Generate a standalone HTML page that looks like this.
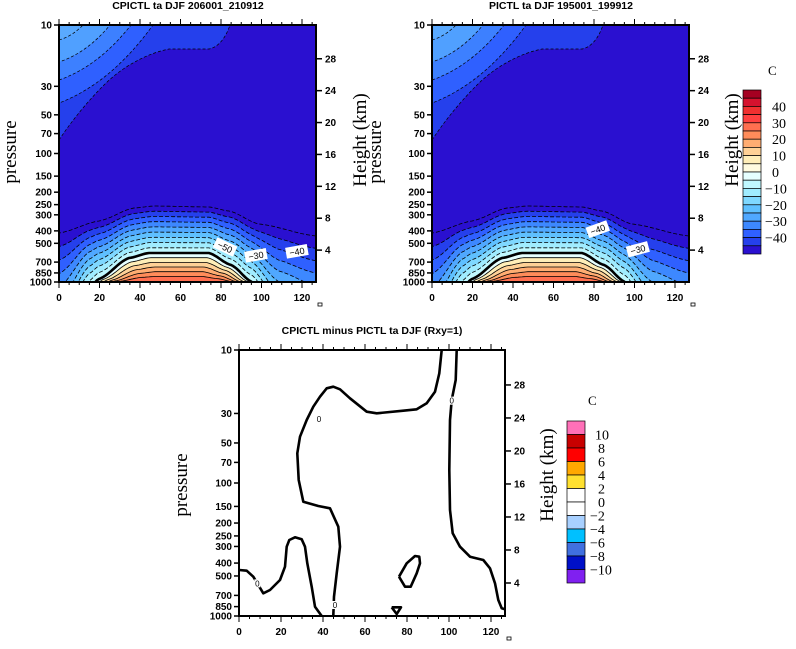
<!DOCTYPE html>
<html><head><meta charset="utf-8"><style>
body{margin:0;background:#fff;}
svg{display:block;font-family:"Liberation Sans",sans-serif;}
.t{font-weight:bold;font-size:10.5px;}
.tk{font-size:10px;font-weight:bold;font-family:"Liberation Sans",sans-serif;}
.ax{font-family:"Liberation Serif",serif;font-size:19px;}
</style></head><body>
<svg id="s" width="796" height="649" viewBox="0 0 796 649" xmlns="http://www.w3.org/2000/svg"></svg>
<script>
var S=document.getElementById('s'),out='';
function lg(p){return Math.log(p/10)/Math.LN10/2;}
function interp(pts,x){if(x<=pts[0][0])return pts[0][1];for(var i=1;i<pts.length;i++){if(x<=pts[i][0]){var a=pts[i-1],b=pts[i],t=(x-a[0])/(b[0]-a[0]);t=0.5*t+0.5*(1-Math.cos(Math.PI*t))/2;return a[1]+(b[1]-a[1])*t;}}return pts[pts.length-1][1];}
function axes(L,T,W,H,sx,xmax){
 var s='';
 s+='<rect x="'+L+'" y="'+T+'" width="'+W+'" height="'+H+'" fill="none" stroke="#000" stroke-width="2"/>';
 var P=[10,30,50,70,100,150,200,250,300,400,500,700,850,1000];
 P.forEach(function(p){var y=T+H*lg(p);s+='<line x1="'+(L-5)+'" y1="'+y+'" x2="'+L+'" y2="'+y+'" stroke="#000" stroke-width="1.5"/><text class="tk" x="'+(L-7)+'" y="'+(y+3.5)+'" text-anchor="end">'+p+'</text>';});
 for(var z=4;z<=28;z+=4){var p=1000*Math.exp(-z/7),y=T+H*lg(p);s+='<line x1="'+(L+W)+'" y1="'+y+'" x2="'+(L+W+6)+'" y2="'+y+'" stroke="#000" stroke-width="1.5"/><text class="tk" x="'+(L+W+9)+'" y="'+(y+3.5)+'">'+z+'</text>';}
 for(var u=0;u<=xmax;u+=5){var x=L+u*sx,len=(u%20==0)?6:3;
  s+='<line x1="'+x+'" y1="'+(T+H)+'" x2="'+x+'" y2="'+(T+H+len)+'" stroke="#000"/><line x1="'+x+'" y1="'+T+'" x2="'+x+'" y2="'+(T-len)+'" stroke="#000"/>';
  if(u%20==0)s+='<text class="tk" x="'+x+'" y="'+(T+H+19)+'" text-anchor="middle">'+u+'</text>';}
 s+='<rect x="'+(L+W+2)+'" y="'+(T+H+21)+'" width="4" height="3" fill="none" stroke="#000" stroke-width="0.8"/>';
 return s;
}
function pathBelow(L,T,W,H,f,bot){var d='M'+(L-2)+','+(bot+5);for(var x=-2;x<=W+2;x+=2){d+=' L'+(L+x)+','+(T+f(x)).toFixed(1);}d+=' L'+(L+W+2)+','+(bot+5)+' Z';return d;}
function lineOf(L,T,W,f){var d='';for(var x=-2;x<=W+2;x+=2){d+=(x==-2?'M':' L')+(L+x)+','+(T+f(x)).toFixed(1);}return d;}
var thick=[[-10,345],[0,330],[30,263],[40,254],[70,233],[90,228],[150,228],[172,240],[193,257],[220,300],[257,322],[270,330]];
var topc=[[-5,209],[0,208],[40,196],[75,183],[95,181],[150,182],[170,186],[200,199],[257,211],[265,212]];
var cols=['#a50021','#d6122e','#f03030','#ff4040','#ff6f50','#ff8c5a','#ffad72','#ffd196','#ffeeb8','#fffbe0','#e6ffff','#c0f8ff','#a0ecff','#7fd8ff','#5fc0ff','#50a8ff','#3d88ff','#2f60ff','#2540ec','#2a10d0'];
function plot(L,T,id,labels){
 var W=257,H=257,s='<defs><clipPath id="c'+id+'"><rect x="'+L+'" y="'+T+'" width="'+W+'" height="'+H+'"/></clipPath></defs><g clip-path="url(#c'+id+')">';
 s+='<rect x="'+L+'" y="'+T+'" width="'+W+'" height="'+H+'" fill="#2a10d0"/>';
 var sc=[[115,171,'#2540ec'],[78,94,'#2f60ff'],[55,72,'#3d80ff'],[37,51,'#50a0ff'],[15,24,'#5aaaff']];
 sc.forEach(function(c,i){var d;
  if(i==0){d='M'+L+','+T+' L'+L+','+(T+115)+' C'+(L+10)+','+(T+100)+' '+(L+25)+','+(T+80)+' '+(L+45)+','+(T+60)+' S'+(L+90)+','+(T+28)+' '+(L+110)+','+(T+24)+' L'+(L+150)+','+(T+24)+' C'+(L+160)+','+(T+22)+' '+(L+167)+','+(T+12)+' '+(L+171)+','+T+' Z';}
  else{var ly=c[0],tx=c[1];d='M'+L+','+T+' L'+L+','+(T+ly)+' Q'+(L+tx*0.55)+','+(T+ly*0.75)+' '+(L+tx)+','+T+' Z';}
  s+='<path d="'+d+'" fill="'+c[2]+'" stroke="#000" stroke-width="0.7" stroke-dasharray="3,2"/>';});
 var bot=T+H;
 for(var k=9;k>=0;k--){(function(k){var f=function(x){var a=interp(thick,x),b=interp(topc,x);return a+(b-a)*k/9;};
  s+='<path d="'+pathBelow(L,T,W,H,f,bot)+'" fill="'+cols[10+k]+'"/>';
  s+='<path d="'+lineOf(L,T,W,f)+'" fill="none" stroke="#000" stroke-width="'+(k==0?2.6:0.8)+'" '+(k==0?'':'stroke-dasharray="4,2"')+'/>';})(k);}
 for(var j=1;j<=5;j++){(function(j){var cx=120,sh=1-0.05*j;var f=function(x){var xx=cx+(x-cx)/sh;var a=interp(thick,xx);return 257-(257-a)*(1-j/6.2);};
  s+='<path d="'+pathBelow(L,T,W,H,f,bot)+'" fill="'+cols[9-j]+'"/>';
  s+='<path d="'+lineOf(L,T,W,f)+'" fill="none" stroke="#000" stroke-width="0.8"/>';})(j);}
 s+='</g>';
 labels.forEach(function(l){s+='<g transform="translate('+(L+l[0])+','+(T+l[1])+') rotate('+l[3]+')"><rect x="-10" y="-6" width="22" height="11" fill="#fff"/><text x="1" y="3" font-size="9" text-anchor="middle">'+l[2]+'</text></g>';});
 s+=axes(L,T,W,H,2.025,125);
 return s;
}
out+=plot(59,25,1,[[165,222,'−50',25],[196,231,'−30',-10],[237,227,'−40',-10]]);
out+=plot(432,25,2,[[165,205,'−40',-20],[205,225,'−30',-15]]);
out+='<text class="t" x="188" y="9" text-anchor="middle">CPICTL ta DJF 206001_210912</text>';
out+='<text class="t" x="561" y="9" text-anchor="middle">PICTL ta DJF 195001_199912</text>';
out+='<text class="ax" transform="translate(16,152) rotate(-90)" text-anchor="middle">pressure</text>';
out+='<text class="ax" transform="translate(366,140) rotate(-90)" text-anchor="middle">Height (km)</text>';
out+='<text class="ax" transform="translate(381,152) rotate(-90)" text-anchor="middle">pressure</text>';
out+='<text class="ax" transform="translate(738,140) rotate(-90)" text-anchor="middle">Height (km)</text>';
var cy=90,bh=164/20;
for(var i=0;i<20;i++){out+='<rect x="743" y="'+(cy+i*bh)+'" width="18" height="'+bh+'" fill="'+cols[i]+'" stroke="#000" stroke-width="0.7"/>';}
var lb=['40','30','20','10','0','−10','−20','−30','−40'];
lb.forEach(function(t,i){out+='<text x="'+(t.length>2||t[0]=='−'?765:772)+'" y="'+(cy+(2+2*i)*bh+5)+'" font-family="Liberation Serif,serif" font-size="14">'+t+'</text>';});
out+='<text x="768" y="75" font-family="Liberation Serif,serif" font-size="13">C</text>';
var L3=239,T3=350,W3=266,H3=266;
out+='<text class="t" x="372" y="334" text-anchor="middle">CPICTL minus PICTL ta DJF (Rxy=1)</text>';
function cv(a){var d='';a.forEach(function(p,i){d+=(i?' L':'M')+(170+p[0]/3).toFixed(1)+','+(320+p[1]/3).toFixed(1);});return d;}
var A=[[490,888],[492,830],[500,760],[510,680],[505,620],[480,565],[445,558],[400,545],[386,480],[382,400],[390,350],[410,300],[430,260],[450,230],[470,205],[490,200],[510,208],[540,235],[590,275],[620,280],[700,272],[740,268],[770,250],[795,215],[808,160],[815,90]];
var B=[[860,90],[857,180],[845,240],[840,300],[838,450],[840,570],[848,640],[870,680],[900,710],[940,720],[960,745],[975,790],[985,840],[995,865],[1005,868]];
var C=[[208,750],[230,752],[250,770],[262,790],[280,820],[300,810],[330,780],[345,740],[350,680],[358,660],[375,652],[395,658],[405,680],[412,730],[425,800],[435,860],[455,888]];
var D=[[687,770],[710,730],[735,708],[748,710],[750,730],[740,760],[722,800],[705,800],[687,770]];
var E=[[665,862],[693,862],[680,882],[665,862]];
[A,B,C,D,E].forEach(function(a){out+='<path d="'+cv(a)+'" fill="none" stroke="#000" stroke-width="2.6" stroke-linejoin="round"/>';});
[[447,297],[845,242],[262,790],[495,855]].forEach(function(p){var x=170+p[0]/3,y=320+p[1]/3;out+='<rect x="'+(x-3)+'" y="'+(y-4)+'" width="6" height="8" fill="#fff"/><text x="'+x+'" y="'+(y+3)+'" font-size="8" text-anchor="middle">0</text>';});
out+=axes(L3,T3,W3,H3,2.1,125);
out+='<text class="ax" transform="translate(187,485) rotate(-90)" text-anchor="middle">pressure</text>';
out+='<text class="ax" transform="translate(553,475) rotate(-90)" text-anchor="middle">Height (km)</text>';
var c2=['#ff70b8','#c80000','#ff0000','#ffa800','#ffe030','#ffffff','#ffffff','#a8d0ff','#00c0ff','#4070e0','#0010c8','#8020f0'];
var y2=421,b2=162/12;
c2.forEach(function(c,i){out+='<rect x="567" y="'+(y2+i*b2)+'" width="18" height="'+b2+'" fill="'+c+'" stroke="#000" stroke-width="0.7"/>';});
['10','8','6','4','2','0','−2','−4','−6','−8','−10'].forEach(function(t,i){out+='<text x="'+(t[0]=='−'?590:(t.length>1?595:598))+'" y="'+(y2+(i+1)*b2+5)+'" font-family="Liberation Serif,serif" font-size="14">'+t+'</text>';});
out+='<text x="588" y="405" font-family="Liberation Serif,serif" font-size="13">C</text>';
S.innerHTML=out;
</script>
</body></html>
